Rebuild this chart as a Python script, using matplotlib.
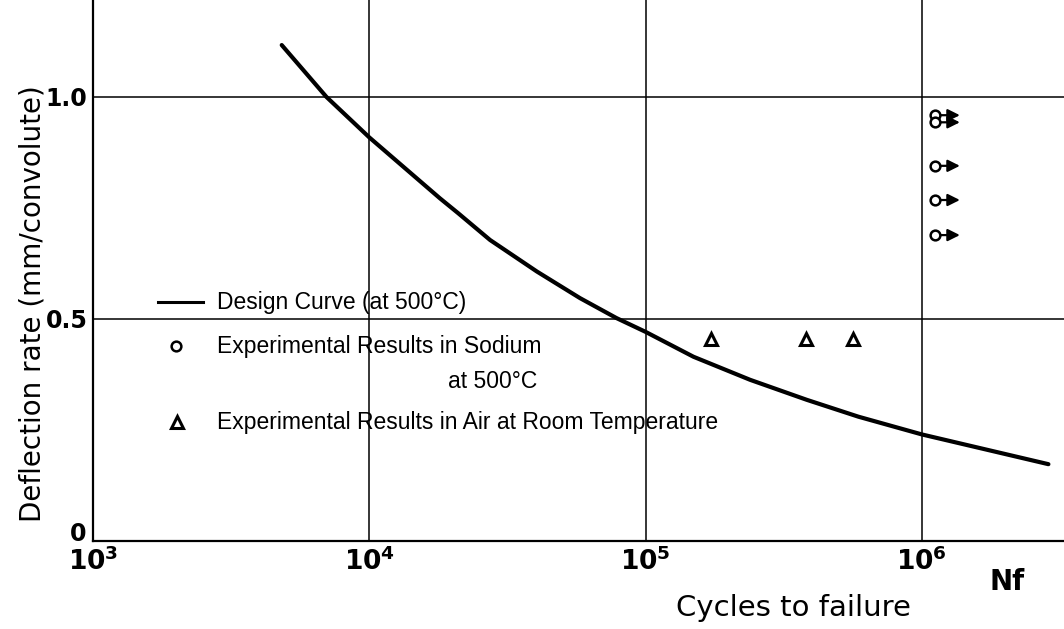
import matplotlib
matplotlib.use("Agg")
import matplotlib.pyplot as plt
from matplotlib.lines import Line2D

# ---------------- data ----------------
curve_N = [4.82e3, 7.0e3, 1.0e4, 1.80e4, 2.10e4, 2.735e4, 4.04e4, 5.79e4,
           7.85e4, 1.0e5, 1.49e5, 2.39e5, 3.83e5, 5.89e5, 1.0e6, 2.87e6]
curve_d = [1.117, 1.000, 0.909, 0.772, 0.738, 0.678, 0.607, 0.547,
           0.502, 0.471, 0.415, 0.363, 0.318, 0.280, 0.240, 0.173]

air_N = [1.73e5, 3.8e5, 5.65e5]
air_d = [0.456, 0.456, 0.456]

sodium_N = [1.12e6, 1.12e6, 1.12e6, 1.12e6, 1.12e6]
sodium_d = [0.959, 0.943, 0.845, 0.768, 0.689]
runout_N = [1.372e6, 1.372e6, 1.372e6, 1.372e6, 1.372e6]

xticks = [1e3, 1e4, 1e5, 1e6]
xtick_labels = [r"$\mathbf{10^{3}}$", r"$\mathbf{10^{4}}$",
                r"$\mathbf{10^{5}}$", r"$\mathbf{10^{6}}$"]
yticks = [0.0, 0.5, 1.0]
ytick_labels = ["", "0.5", "1.0"]

legend_labels = ["Design Curve (at 500°C)",
                 "Experimental Results in Sodium",
                 "at 500°C",
                 "Experimental Results in Air at Room Temperature"]

# ---------------- figure ----------------
W, H = 1064, 629
fig = plt.figure(figsize=(W / 100, H / 100), dpi=100)
fx = lambda x: x / W
fy = lambda y: 1 - y / H

ax = fig.add_axes([93 / W, (H - 541) / H, (W - 93) / W, 541 / H])
ax.set_xscale("log")
ax.set_xlim(1e3, 10 ** (3 + (W - 93) / 276.3))
ax.set_ylim(0, 541 / 444)

for s in ("top", "right"):
    ax.spines[s].set_visible(False)
for s in ("left", "bottom"):
    ax.spines[s].set_linewidth(1.6)

ax.set_xticks(xticks)
ax.set_xticklabels(xtick_labels, fontsize=19)
ax.xaxis.set_minor_locator(matplotlib.ticker.NullLocator())
ax.set_yticks(yticks)
ax.set_yticklabels(ytick_labels, fontsize=17, fontweight="bold")
ax.tick_params(axis="x", length=0, pad=5)
ax.tick_params(axis="y", length=0, pad=4)
ax.grid(True, color="black", lw=1.1)
ax.set_axisbelow(True)

# design curve
ax.plot(curve_N, curve_d, color="black", lw=3.0, solid_capstyle="round", zorder=3)

# air results
ax.plot(air_N, air_d, linestyle="none", marker="^", ms=9, mfc="white",
        mec="black", mew=2.2, zorder=4)

# sodium results with run-out arrows
for n0, n1, d in zip(sodium_N, runout_N, sodium_d):
    ax.annotate("", xy=(n1, d), xytext=(n0, d),
                arrowprops=dict(arrowstyle="-|>,head_length=0.6,head_width=0.3",
                                color="black", lw=1.6, shrinkA=3, shrinkB=0,
                                mutation_scale=12), zorder=4)
ax.plot(sodium_N, sodium_d, linestyle="none", marker="o", ms=7, mfc="white",
        mec="black", mew=1.8, zorder=5)

# y tick label "0" sitting on the axis
fig.text(fx(86), fy(541), "0", ha="right", va="baseline", fontsize=17,
         fontweight="bold")

# axis titles
fig.text(fx(33), fy(304), "Deflection rate (mm/convolute)", rotation=90,
         ha="center", va="center", fontsize=20)
fig.text(fx(793), fy(608), "Cycles to failure", ha="center", va="center",
         fontsize=21)
fig.text(fx(1007), fy(582), "Nf", ha="center", va="center", fontsize=20,
         fontweight="bold")

# manual legend
fam = ["Liberation Sans", "DejaVu Sans"]
fig.add_artist(Line2D([fx(158), fx(203)], [fy(302), fy(302)], color="black", lw=2.2))
fig.add_artist(Line2D([fx(176)], [fy(346)], marker="o", ms=7, mfc="white",
                      mec="black", mew=1.8, linestyle="none"))
fig.add_artist(Line2D([fx(177)], [fy(422)], marker="^", ms=9, mfc="white",
                      mec="black", mew=2.2, linestyle="none"))
fig.text(fx(217), fy(302), legend_labels[0], ha="left", va="center",
         fontsize=16.5, family=fam)
fig.text(fx(217), fy(346), legend_labels[1], ha="left", va="center",
         fontsize=16.5, family=fam)
fig.text(fx(537), fy(382), legend_labels[2], ha="right", va="center",
         fontsize=16.5, family=fam)
fig.text(fx(217), fy(422), legend_labels[3], ha="left", va="center",
         fontsize=16.5, family=fam)

fig.savefig("out.png", dpi=100)
